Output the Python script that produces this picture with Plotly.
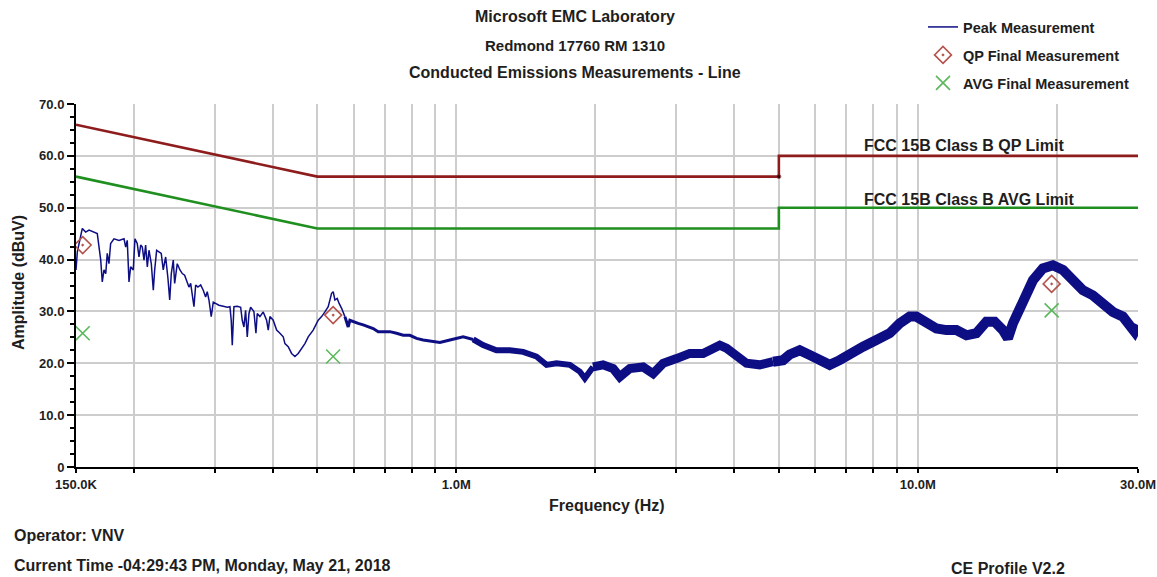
import math
import plotly.graph_objects as go

# ---- measurement data -------------------------------------------------------
# Peak detector sweep, frequency in kHz and amplitude in dBuV
peak_khz = [
    150.0, 151.0, 154.8, 157.4, 160.1, 164.1, 166.8, 169.7, 171.0, 172.5,
    174.0, 175.3, 176.8, 178.3, 181.3, 185.9, 190.6, 192.2, 193.7, 195.4,
    197.0, 199.6, 201.3, 203.6, 205.4, 207.1, 208.8, 210.6, 212.3, 214.1,
    215.9, 218.4, 220.6, 222.1, 224.3, 226.9, 229.5, 231.8, 234.6, 237.3,
    239.4, 241.3, 243.7, 245.4, 248.6, 252.0, 254.9, 257.9, 261.3, 263.5,
    265.8, 267.9, 270.2, 272.5, 275.6, 279.4, 283.0, 286.4, 288.7, 291.2,
    294.5, 297.5, 301.1, 306.0, 312.7, 319.0, 323.3, 325.4, 327.1, 329.8,
    335.3, 341.1, 343.8, 346.7, 349.6, 352.5, 355.5, 358.5, 364.4, 368.1,
    370.5, 375.5, 381.7, 388.2, 391.4, 394.7, 401.2, 408.1, 414.9, 421.8,
    425.4, 432.4, 439.8, 447.1, 454.5, 462.3, 470.0, 477.8, 489.8, 502.2,
    510.8, 519.3, 527.9, 536.9, 541.2, 545.8, 552.1, 557.7, 564.4, 573.7,
    583.3, 588.2, 598.0, 613.0, 628.6, 644.4, 660.7, 677.4, 694.5, 718.0,
    742.4, 767.4, 793.4, 820.4, 847.8, 876.6, 921.5, 968.6, 1035, 1088,
    1143, 1222, 1306, 1396, 1492, 1569, 1649, 1762, 1852, 1899,
    1979, 2080, 2187, 2261, 2377, 2540, 2670, 2806, 3000, 3206,
    3426, 3601, 3723, 3849, 4046, 4254, 4545, 4857, 5106, 5279,
    5548, 5832, 6129, 6443, 6773, 7119, 7608, 8133, 8691, 9135,
    9603, 9929, 10436, 10970, 11531, 12122, 12741, 13392, 14078, 14673,
    15293, 15678, 16074, 16896, 17760, 18669, 19623, 20628, 21683, 22791,
    23957, 25182, 26470, 27824, 29015, 29495, 30000,
]
peak_dbuv = [
    38.0, 41.5, 46.0, 45.3, 45.7, 45.3, 45.0, 39.9, 35.7, 38.0,
    37.3, 41.2, 39.2, 43.1, 44.0, 43.7, 44.0, 42.4, 43.7, 35.7,
    38.6, 38.0, 44.0, 43.1, 40.5, 42.8, 42.4, 39.9, 42.8, 38.6,
    41.8, 39.2, 34.1, 38.0, 41.8, 41.5, 41.2, 38.0, 40.5, 36.4,
    32.2, 37.3, 39.9, 35.4, 39.2, 38.0, 37.3, 37.0, 35.7, 34.7,
    35.4, 33.1, 30.9, 35.1, 34.7, 35.1, 34.1, 32.8, 33.8, 32.2,
    29.0, 31.8, 31.5, 31.2, 31.0, 30.8, 30.9, 28.3, 23.5, 30.9,
    31.0, 30.8, 28.3, 27.0, 30.2, 25.1, 29.6, 30.8, 30.0, 25.8,
    29.6, 29.0, 29.9, 28.3, 26.4, 29.0, 28.3, 26.4, 25.8, 25.1,
    23.8, 23.2, 21.9, 21.3, 21.9, 22.9, 23.8, 25.1, 26.4, 28.3,
    29.0, 29.9, 30.9, 33.5, 33.8, 32.2, 32.5, 31.5, 30.6, 29.0,
    27.0, 28.3, 28.0, 27.7, 27.4, 27.0, 26.7, 26.1, 26.1, 26.1,
    25.8, 25.4, 25.4, 24.8, 24.5, 24.3, 24.0, 24.5, 25.1, 24.6,
    23.5, 22.5, 22.5, 22.2, 21.3, 19.7, 20.0, 19.7, 18.4, 17.1,
    19.3, 19.7, 19.0, 17.4, 19.0, 19.3, 18.0, 20.0, 20.9, 21.9,
    21.9, 22.9, 23.5, 22.9, 21.3, 20.0, 19.7, 20.3, 20.6, 21.7,
    22.5, 21.6, 20.6, 19.7, 20.6, 21.9, 23.2, 24.5, 25.8, 27.7,
    29.0, 29.0, 27.7, 26.7, 26.4, 26.4, 25.4, 25.8, 28.0, 28.0,
    26.4, 24.8, 27.7, 32.2, 36.0, 38.3, 38.9, 38.0, 36.0, 34.1,
    33.1, 31.5, 29.9, 29.0, 27.4, 26.1, 27.4,
]

# Final measurements (quasi-peak and average detectors)
qp_khz = [155.1, 541.0, 19500.0]
qp_dbuv = [42.8, 29.3, 35.3]
avg_khz = [155.1, 541.0, 19500.0]
avg_dbuv = [25.8, 21.3, 30.2]

# FCC Part 15B Class B conducted limits
limit_khz = [150, 500, 5000, 5000, 30000]
qp_limit_dbuv = [66, 56, 56, 60, 60]
avg_limit_dbuv = [56, 46, 46, 50, 50]

# Axis ticks
x_tick_hz = [150e3, 1e6, 10e6, 30e6]
x_tick_text = ["150.0K", "1.0M", "10.0M", "30.0M"]
x_minor_hz = [2e5, 3e5, 4e5, 5e5, 6e5, 7e5, 8e5, 9e5,
              2e6, 3e6, 4e6, 5e6, 6e6, 7e6, 8e6, 9e6, 2e7]
y_tick_vals = [0, 10, 20, 30, 40, 50, 60, 70]
y_tick_text = ["0", "10.0", "20.0", "30.0", "40.0", "50.0", "60.0", "70.0"]

# ---- layout geometry (pixels) ------------------------------------------------
W, H = 1157, 577
L, R, T, B = 76, 1138, 104, 467
FONT = "Liberation Sans, Arial, sans-serif"
TXT = "#1e1e1e"


def px_x(x):
    return (x - L) / (R - L)


def px_y(y):
    return (B - y) / (B - T)


peak_hz = [f * 1e3 for f in peak_khz]

fig = go.Figure()

# limit lines
fig.add_trace(go.Scatter(
    x=[f * 1e3 for f in limit_khz], y=qp_limit_dbuv, mode="lines+markers",
    line=dict(color="#8e1c1c", width=2.6),
    marker=dict(size=[0, 0, 4, 0, 0], color="black"),
    showlegend=False, hoverinfo="skip"))
fig.add_trace(go.Scatter(
    x=[f * 1e3 for f in limit_khz], y=avg_limit_dbuv, mode="lines",
    line=dict(color="#1f8f1f", width=2.6),
    showlegend=False, hoverinfo="skip"))

# peak sweep: the trace gets denser (thicker) toward higher frequencies
bands = [(150, 580, 1.5), (580, 1100, 3.0), (1100, 2000, 6.0),
         (2000, 5000, 9.0), (5000, 30000, 10.0)]
for k, (lo, hi, wdt) in enumerate(bands):
    idx = [i for i, f in enumerate(peak_khz) if lo <= f <= hi]
    start = max(idx[0] - 1, 0)
    stop = idx[-1] + 1
    fig.add_trace(go.Scatter(
        x=peak_hz[start:stop], y=peak_dbuv[start:stop], mode="lines",
        line=dict(color="#0e0e84", width=wdt),
        name="<b>Peak Measurement</b>", legend="legend",
        showlegend=(k == 0), legendgroup="peak"))

fig.add_trace(go.Scatter(
    x=[f * 1e3 for f in qp_khz], y=qp_dbuv, mode="markers",
    marker=dict(symbol="diamond-open-dot", size=13, color="#b5524c",
                line=dict(width=1.6, color="#b5524c")),
    name="<b>QP Final Measurement</b>", legend="legend2"))
fig.add_trace(go.Scatter(
    x=[f * 1e3 for f in avg_khz], y=avg_dbuv, mode="markers",
    marker=dict(symbol="x-thin-open", size=14, color="#5cb85c",
                line=dict(width=1.6, color="#5cb85c")),
    name="<b>AVG Final Measurement</b>", legend="legend3"))

legend_common = dict(xanchor="left", yanchor="middle", bgcolor="rgba(0,0,0,0)",
                     font=dict(family=FONT, size=14.5, color=TXT),
                     itemwidth=30, borderwidth=0)

annotations = [
    dict(text="<b>Microsoft EMC Laboratory</b>", x=px_x(575), y=px_y(17),
         font=dict(size=16)),
    dict(text="<b>Redmond 17760 RM 1310</b>", x=px_x(575), y=px_y(45),
         font=dict(size=15)),
    dict(text="<b>Conducted Emissions Measurements - Line</b>", x=px_x(575),
         y=px_y(72), font=dict(size=16)),
    dict(text="<b>FCC 15B Class B QP Limit</b>", x=px_x(862), y=px_y(146),
         xanchor="left", font=dict(size=16)),
    dict(text="<b>FCC 15B Class B AVG Limit</b>", x=px_x(862), y=px_y(199),
         xanchor="left", font=dict(size=16)),
    dict(text="<b>Amplitude (dBuV)</b>", x=px_x(18), y=px_y(283),
         textangle=-90, font=dict(size=16)),
    dict(text="<b>Frequency (Hz)</b>", x=px_x(607), y=px_y(505),
         font=dict(size=16)),
    dict(text="<b>Operator: VNV</b>", x=px_x(12), y=px_y(535),
         xanchor="left", font=dict(size=16)),
    dict(text="<b>Current Time -04:29:43 PM, Monday, May 21, 2018</b>",
         x=px_x(12), y=px_y(565), xanchor="left", font=dict(size=16)),
    dict(text="<b>CE Profile V2.2</b>", x=px_x(949), y=px_y(568),
         xanchor="left", font=dict(size=16)),
]
for a in annotations:
    a.setdefault("xanchor", "center")
    a.update(xref="paper", yref="paper", yanchor="middle", showarrow=False)
    a["font"].update(family=FONT, color=TXT)

fig.update_layout(
    width=W, height=H,
    margin=dict(l=L, r=W - R, t=T, b=H - B, pad=0, autoexpand=False),
    paper_bgcolor="white", plot_bgcolor="white",
    annotations=annotations,
    legend=dict(x=px_x(923), y=px_y(27), **legend_common),
    legend2=dict(x=px_x(923), y=px_y(55), **legend_common),
    legend3=dict(x=px_x(923), y=px_y(83), **legend_common),
    xaxis=dict(
        type="log", range=[math.log10(150e3), math.log10(30e6)],
        tickmode="array", tickvals=x_tick_hz, ticktext=x_tick_text,
        showgrid=True, gridcolor="#cdcdcd", gridwidth=1.5,
        showline=True, linecolor="black", linewidth=2,
        ticks="outside", ticklen=4, tickwidth=2, tickcolor="black",
        tickfont=dict(family=FONT, size=13, color=TXT, weight="bold"),
        minor=dict(tickmode="array", tickvals=x_minor_hz, showgrid=True,
                   gridcolor="#cdcdcd", gridwidth=1.5, ticks="outside",
                   ticklen=4, tickwidth=2, tickcolor="black"),
        zeroline=False, automargin=False,
    ),
    yaxis=dict(
        range=[0, 70], tickmode="array", tickvals=y_tick_vals,
        ticktext=y_tick_text,
        showgrid=True, gridcolor="#cdcdcd", gridwidth=1.5,
        showline=True, linecolor="black", linewidth=2,
        ticks="outside", ticklen=7, tickwidth=2, tickcolor="black",
        tickfont=dict(family=FONT, size=13, color=TXT, weight="bold"),
        minor=dict(dtick=2.5, ticks="outside", ticklen=4, tickwidth=1.5,
                   tickcolor="black", showgrid=False),
        zeroline=False, automargin=False,
    ),
)

fig.write_html("out.html")
